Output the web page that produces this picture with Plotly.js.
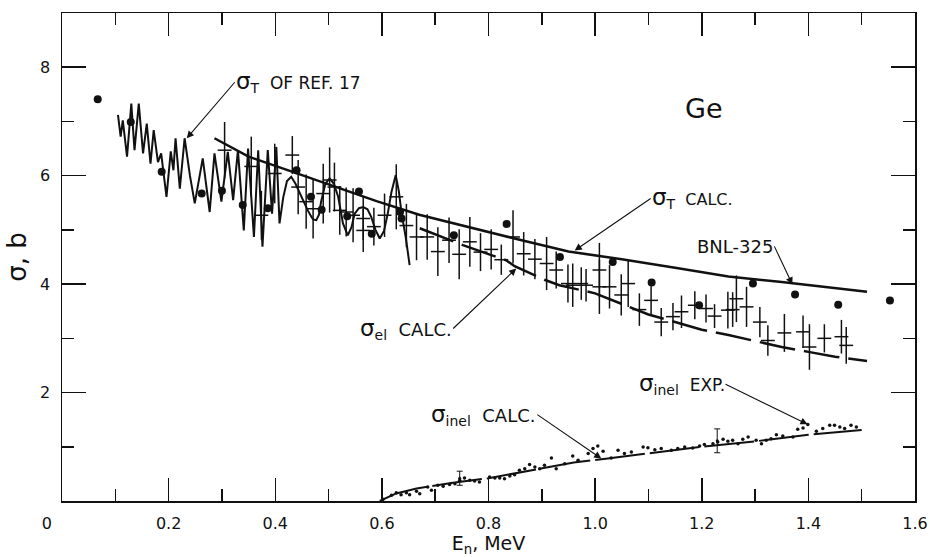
<!DOCTYPE html>
<html>
<head>
<meta charset="utf-8">
<script src="https://cdn.plot.ly/plotly-3.0.1.min.js"></script>
<style>html,body{margin:0;padding:0;background:#fff;}#chart{width:930px;height:557px;}</style>
</head>
<body>
<div id="chart"></div>
<script>
// sigma_T of Ref. 17 (oscillating curve)
const refX = [0.105,0.110,0.114,0.122,0.130,0.136,0.144,0.152,0.159,0.166,0.172,0.180,0.186,0.196,0.204,0.209,0.213,0.221,0.230,0.240,0.249,0.264,0.277,0.286,0.299,0.311,0.321,0.330,0.341,0.349,0.360,0.368,0.376,0.386,0.394,0.402,0.408,0.415,0.422,0.430,0.438,0.446,0.454,0.461,0.469,0.472,0.477,0.482,0.486,0.494,0.502,0.510,0.518,0.527,0.536,0.543,0.549,0.557,0.565,0.573,0.580,0.588,0.596,0.604,0.611,0.618,0.626,0.632,0.637,0.645,0.652];
const refY = [7.12,6.72,7.02,6.35,7.33,6.47,7.33,6.41,6.96,6.22,6.84,6.25,6.41,5.61,6.45,6.10,6.69,5.76,6.69,6.00,5.49,6.32,5.33,6.41,5.52,6.44,5.55,6.47,4.99,6.50,4.87,6.47,4.69,6.47,5.30,6.53,5.12,5.60,5.90,5.98,5.85,5.67,5.50,5.36,5.22,5.19,5.18,5.28,5.52,5.85,5.95,5.85,5.61,5.12,4.90,5.05,5.30,5.40,5.42,5.38,5.24,5.00,4.84,4.98,5.30,5.70,6.01,5.70,5.30,4.85,4.35];

// sigma_T calculated
const calcTX = [0.286,0.35,0.43,0.51,0.59,0.67,0.79,0.87,0.95,1.05,1.15,1.25,1.35,1.45,1.51];
const calcTY = [6.69,6.35,6.08,5.80,5.53,5.28,4.98,4.79,4.60,4.46,4.30,4.14,4.04,3.92,3.86];

// sigma_el calculated (dashed)
const elX = [0.671,0.752,0.833,0.849,0.905,0.933,1.0,1.05,1.10,1.15,1.20,1.25,1.30,1.35,1.40,1.45,1.51];
const elY = [5.03,4.72,4.44,4.33,4.08,3.98,3.83,3.63,3.44,3.30,3.16,3.06,2.95,2.84,2.75,2.66,2.58];

// sigma_inel calculated
const inelCalcX = [0.596,0.627,0.665,0.73,0.80,0.88,0.96,1.02,1.10,1.20,1.30,1.40,1.50];
const inelCalcY = [0.0,0.14,0.23,0.33,0.42,0.56,0.71,0.78,0.88,1.00,1.10,1.22,1.31];

// sigma_inel experimental (dots)
const inelExpX = [0.602,0.618,0.627,0.636,0.646,0.652,0.665,0.671,0.686,0.693,0.705,0.715,0.727,0.737,0.746,0.755,0.765,0.774,0.783,0.802,0.812,0.821,0.830,0.840,0.849,0.858,0.868,0.877,0.887,0.896,0.905,0.918,0.927,0.943,0.958,0.968,0.987,0.996,1.005,1.015,1.030,1.043,1.055,1.068,1.090,1.099,1.112,1.124,1.143,1.155,1.168,1.183,1.196,1.205,1.221,1.230,1.240,1.249,1.258,1.268,1.277,1.287,1.302,1.312,1.321,1.330,1.340,1.352,1.371,1.380,1.390,1.399,1.415,1.427,1.440,1.449,1.459,1.468,1.480,1.490];
const inelExpY = [0.03,0.105,0.154,0.117,0.154,0.117,0.179,0.136,0.259,0.197,0.289,0.271,0.302,0.320,0.382,0.425,0.382,0.369,0.351,0.443,0.425,0.425,0.412,0.462,0.486,0.566,0.597,0.671,0.628,0.597,0.658,0.794,0.597,0.689,0.831,0.751,0.874,0.966,1.015,0.917,0.794,0.935,0.874,0.904,0.997,0.984,0.947,0.966,0.935,0.966,0.997,0.978,1.015,1.040,1.058,1.089,1.138,1.101,1.120,1.058,1.138,1.181,1.120,1.058,1.120,1.150,1.224,1.200,1.181,1.323,1.347,1.409,1.286,1.335,1.397,1.397,1.366,1.335,1.397,1.366];
const inelErrX = [0.746,1.229];
const inelErrY = [0.42,1.11];
const inelErrE = [0.13,0.22];

// BNL-325 points (filled circles)
const bnlX = [0.067,0.129,0.187,0.262,0.300,0.339,0.386,0.440,0.467,0.487,0.535,0.557,0.581,0.634,0.637,0.735,0.834,0.934,1.033,1.106,1.195,1.296,1.375,1.456,1.553];
const bnlY = [7.41,6.99,6.07,5.67,5.72,5.46,5.40,6.10,5.61,5.37,5.25,5.71,4.93,5.33,5.21,4.90,5.11,4.50,4.41,4.03,3.61,4.01,3.81,3.62,3.70];

// measured cross sections with error bars (crosses)
const crossX = [0.305,0.355,0.374,0.399,0.432,0.443,0.458,0.471,0.490,0.502,0.511,0.521,0.533,0.546,0.565,0.565,0.585,0.605,0.627,0.646,0.665,0.685,0.705,0.726,0.745,0.765,0.785,0.805,0.824,0.846,0.866,0.887,0.909,0.927,0.949,0.958,0.974,0.983,1.008,1.008,1.027,1.049,1.062,1.083,1.105,1.124,1.146,1.162,1.187,1.208,1.224,1.249,1.258,1.265,1.284,1.309,1.324,1.355,1.390,1.402,1.430,1.462,1.471];
const crossY = [6.47,6.17,5.27,6.04,6.38,5.79,5.52,5.39,5.67,5.92,5.79,5.36,5.33,5.27,5.21,4.99,5.06,5.27,5.61,5.08,4.87,4.87,4.60,4.81,4.55,4.78,4.59,4.64,4.45,4.87,4.56,4.46,4.38,4.26,4.01,3.98,4.01,3.98,4.26,3.95,3.95,3.80,4.01,3.53,3.70,3.30,3.40,3.49,3.61,3.55,3.41,3.52,3.53,3.73,3.58,3.30,2.96,3.10,3.12,2.84,3.00,3.03,2.87];
const crossEY = [0.52,0.55,0.45,0.55,0.35,0.50,0.50,0.55,0.55,0.60,0.45,0.45,0.45,0.50,0.40,0.40,0.35,0.40,0.60,0.40,0.43,0.42,0.45,0.42,0.46,0.46,0.35,0.37,0.28,0.49,0.40,0.37,0.49,0.34,0.35,0.40,0.30,0.30,0.50,0.50,0.40,0.38,0.43,0.30,0.26,0.26,0.25,0.30,0.26,0.26,0.22,0.34,0.32,0.43,0.37,0.28,0.28,0.35,0.30,0.42,0.26,0.31,0.34];
const crossEX = crossX.map(() => 0.013);

// axis ticks
const xTickVals = [0, 0.2, 0.4, 0.6, 0.8, 1.0, 1.2, 1.4, 1.6];
const xTickText = ['0\u00a0\u00a0\u00a0\u00a0\u00a0\u00a0', '0.2', '0.4', '0.6', '0.8', '1.0', '1.2', '1.4', '1.6'];
const yTickVals = [2, 4, 6, 8];
const yTickText = ['2', '4', '6', '8'];

const FONT = 'DejaVu Sans, Liberation Sans, sans-serif';
const BLK = '#111';
// sigma with subscript, followed by the rest of the label at a given size
function sig(sub, rest, size) {
  return '<span style="font-size:23px">σ</span><sub>' + sub + '</sub>' +
         '<span style="font-size:' + size + 'px">  ' + rest + '</span>';
}

const traces = [
  {x: refX, y: refY, mode: 'lines', line: {color: BLK, width: 2}, hoverinfo: 'skip'},
  {x: calcTX, y: calcTY, mode: 'lines', line: {color: BLK, width: 2.5}, hoverinfo: 'skip'},
  {x: elX, y: elY, mode: 'lines', line: {color: BLK, width: 2.5, dash: '36px,9px'}, hoverinfo: 'skip'},
  {x: inelCalcX, y: inelCalcY, mode: 'lines', line: {color: BLK, width: 2, dash: '50px,5px'}, hoverinfo: 'skip'},
  {x: inelExpX, y: inelExpY, mode: 'markers', marker: {color: BLK, size: 3.5}, hoverinfo: 'skip'},
  {x: inelErrX, y: inelErrY, mode: 'markers', marker: {color: BLK, size: 3},
   error_y: {type: 'data', array: inelErrE, width: 3, thickness: 1, color: BLK}, hoverinfo: 'skip'},
  {x: crossX, y: crossY, mode: 'markers', marker: {color: BLK, size: 1},
   error_y: {type: 'data', array: crossEY, width: 0, thickness: 1.5, color: BLK},
   error_x: {type: 'data', array: crossEX, width: 0, thickness: 1.5, color: BLK}, hoverinfo: 'skip'},
  {x: bnlX, y: bnlY, mode: 'markers', marker: {color: BLK, size: 8}, hoverinfo: 'skip'}
];

// label with arrow: text box anchored at the arrow tail
function note(x, y, ax, ay, text, xanchor, size) {
  return {x: x, y: y, xref: 'x', yref: 'y', ax: ax, ay: ay, text: text, showarrow: true,
          xanchor: xanchor, yanchor: 'middle', borderpad: 0,
          arrowhead: 2, arrowsize: 1.3, arrowwidth: 1.1, arrowcolor: BLK,
          font: {family: FONT, size: size, color: BLK}};
}

const layout = {
  width: 930, height: 557,
  margin: {l: 62, r: 15, t: 13, b: 56},
  paper_bgcolor: '#fff', plot_bgcolor: '#fff',
  showlegend: false,
  font: {family: FONT, color: BLK},
  xaxis: {
    range: [0, 1.6], tickvals: xTickVals, ticktext: xTickText,
    ticks: 'inside', ticklen: 23, tickwidth: 1.5, tickcolor: BLK,
    minor: {dtick: 0.1, tick0: 0, ticks: 'inside', ticklen: 12, tickwidth: 1.5, tickcolor: BLK, showgrid: false},
    showline: true, linewidth: 1.5, linecolor: BLK, mirror: 'allticks',
    showgrid: false, zeroline: false,
    tickfont: {family: FONT, size: 16, color: BLK}, ticklabelstandoff: 7,
    title: {text: 'E<sub>n</sub>, MeV', font: {family: FONT, size: 19, color: BLK}, standoff: 9}
  },
  yaxis: {
    range: [0, 9], tickvals: yTickVals, ticktext: yTickText,
    ticks: 'inside', ticklen: 24, tickwidth: 1.5, tickcolor: BLK,
    minor: {dtick: 1, tick0: 0, ticks: 'inside', ticklen: 12, tickwidth: 1.5, tickcolor: BLK, showgrid: false},
    showline: true, linewidth: 1.5, linecolor: BLK, mirror: 'allticks',
    showgrid: false, zeroline: false,
    tickfont: {family: FONT, size: 16, color: BLK}, ticklabelstandoff: 7,
    title: {text: 'σ, b', font: {family: FONT, size: 26, color: BLK}, standoff: 6}
  },
  annotations: [
    note(0.234, 6.69, 48, -56, sig('T', 'OF REF. 17', 17), 'left', 20),
    note(0.9616, 4.62, 76, -52, sig('T', 'CALC.', 16), 'left', 20),
    note(1.370, 3.995, -18, -38, 'BNL-325', 'right', 18),
    note(0.852, 4.288, -63, 60, sig('el', 'CALC.', 18), 'right', 20),
    note(1.0116, 0.782, -64, -44, sig('inel', 'CALC.', 18), 'right', 20),
    note(1.3985, 1.415, -82, -40, sig('inel', 'EXP.', 17), 'right', 20),
    {x: 1.204, y: 7.24, xref: 'x', yref: 'y', text: 'Ge', showarrow: false,
     font: {family: FONT, size: 27, color: BLK}}
  ]
};

Plotly.newPlot('chart', traces, layout, {displayModeBar: false, staticPlot: true});
</script>
</body>
</html>
